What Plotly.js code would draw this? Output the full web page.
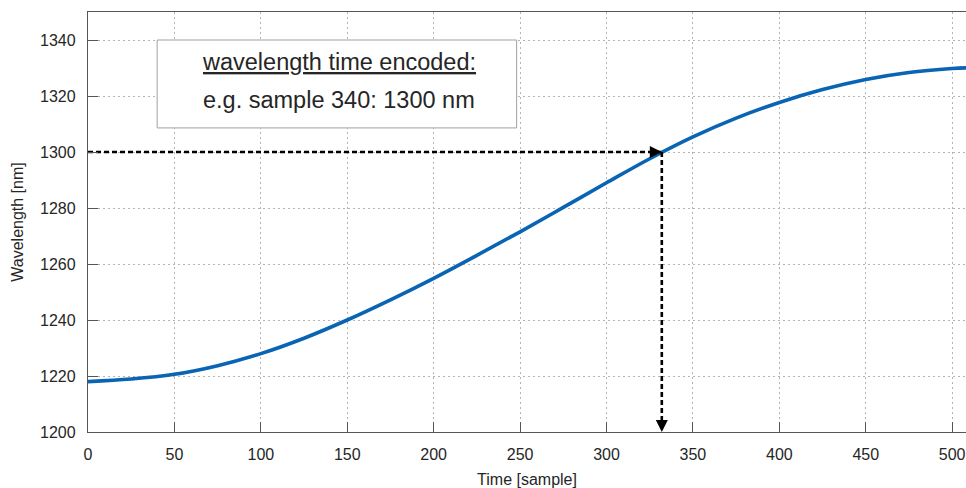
<!DOCTYPE html>
<html>
<head>
<meta charset="utf-8">
<script src="https://cdn.plot.ly/plotly-3.0.1.min.js"></script>
<style>html,body{margin:0;padding:0;background:#fff}#chart{width:966px;height:488px}</style>
</head>
<body>
<div id="chart"></div>
<script>
// Data
const samples = [0, 25, 50, 75, 100, 125, 150, 175, 200, 225, 250, 275, 300, 325, 350, 375, 400, 425, 450, 475, 500, 510];
const wavelength = [1218.0, 1218.9, 1220.6, 1223.7, 1228.0, 1233.5, 1240.0, 1247.2, 1254.9, 1263.1, 1271.5, 1280.2, 1289.0, 1297.6, 1305.4, 1312.1, 1317.7, 1322.3, 1325.9, 1328.4, 1329.8, 1330.1];
const xTicks = [0, 50, 100, 150, 200, 250, 300, 350, 400, 450, 500];
const yTicks = [1200, 1220, 1240, 1260, 1280, 1300, 1320, 1340];
const markSample = [332];
const markWavelength = [1300];
const baseSample = [0];
const baseWavelength = [1200];
const boxTitle = "wavelength time encoded:";
const boxText = "e.g. sample 340: 1300 nm";

const font = "Liberation Sans, Arial, Helvetica, sans-serif";
const txt = "#262626";
const axCol = "#555";
const gridCol = "#b4b4b4";

const traces = [
  {
    x: samples, y: wavelength, type: "scatter", mode: "lines",
    line: {color: "#0a64b4", width: 3.6, shape: "spline", smoothing: 1},
    hoverinfo: "skip", showlegend: false
  },
  {
    x: [baseSample[0], markSample[0]], y: [markWavelength[0], markWavelength[0]],
    type: "scatter", mode: "lines",
    line: {color: "#000", width: 2.6, dash: "5px,3px"},
    hoverinfo: "skip", showlegend: false
  },
  {
    x: [markSample[0], markSample[0]], y: [markWavelength[0], baseWavelength[0]],
    type: "scatter", mode: "lines",
    line: {color: "#000", width: 2.6, dash: "5px,3px"},
    hoverinfo: "skip", showlegend: false
  }
];

const layout = {
  width: 966, height: 488,
  margin: {l: 88, r: 0, t: 12, b: 56, pad: 0},
  paper_bgcolor: "#fff", plot_bgcolor: "#fff",
  font: {family: font, color: txt, size: 16},
  xaxis: {
    range: [0, 508], tickvals: xTicks, ticktext: xTicks.map(String),
    ticks: "inside", ticklen: 10, tickwidth: 1, tickcolor: axCol,
    showline: true, linecolor: axCol, linewidth: 1.2, mirror: true,
    showgrid: true, gridcolor: gridCol, griddash: "2px,3px", gridwidth: 1,
    zeroline: false, tickfont: {size: 16, color: txt, family: font},
    ticklabelstandoff: 8,
    title: {text: "Time [sample]", font: {size: 16, color: txt, family: font}, standoff: 12}
  },
  yaxis: {
    range: [1200, 1350], tickvals: yTicks, ticktext: yTicks.map(String),
    ticks: "inside", ticklen: 10, tickwidth: 1, tickcolor: axCol,
    showline: true, linecolor: axCol, linewidth: 1.2, mirror: false,
    showgrid: true, gridcolor: gridCol, griddash: "2px,3px", gridwidth: 1,
    zeroline: false, tickfont: {size: 16, color: txt, family: font},
    ticklabelstandoff: 8,
    title: {text: "Wavelength [nm]", font: {size: 16, color: txt, family: font}, standoff: 12}
  },
  shapes: [
    {type: "rect", xref: "x", yref: "y", x0: 40, x1: 248, y0: 1308.6, y1: 1340,
     line: {color: "#a0a0a0", width: 1}, fillcolor: "#fff", layer: "above"}
  ],
  annotations: [
    {xref: "x", yref: "y", x: 145, y: 1332.1, text: "<u>" + boxTitle + "</u>", showarrow: false,
     font: {size: 23.5, color: txt, family: font}, xanchor: "center", yanchor: "middle"},
    {xref: "x", yref: "y", x: 145, y: 1318.6, text: boxText, showarrow: false,
     font: {size: 23.5, color: txt, family: font}, xanchor: "center", yanchor: "middle"},
    {xref: "x", yref: "y", x: markSample[0], y: markWavelength[0], axref: "pixel", ayref: "pixel",
     ax: -12, ay: 0, text: "", showarrow: true, arrowhead: 2, arrowsize: 1.2, arrowwidth: 2, arrowcolor: "#000"},
    {xref: "x", yref: "y", x: markSample[0], y: baseWavelength[0], axref: "pixel", ayref: "pixel",
     ax: 0, ay: -12, text: "", showarrow: true, arrowhead: 2, arrowsize: 1.2, arrowwidth: 2, arrowcolor: "#000"}
  ]
};

Plotly.newPlot("chart", traces, layout, {displayModeBar: false, staticPlot: true});
</script>
</body>
</html>
